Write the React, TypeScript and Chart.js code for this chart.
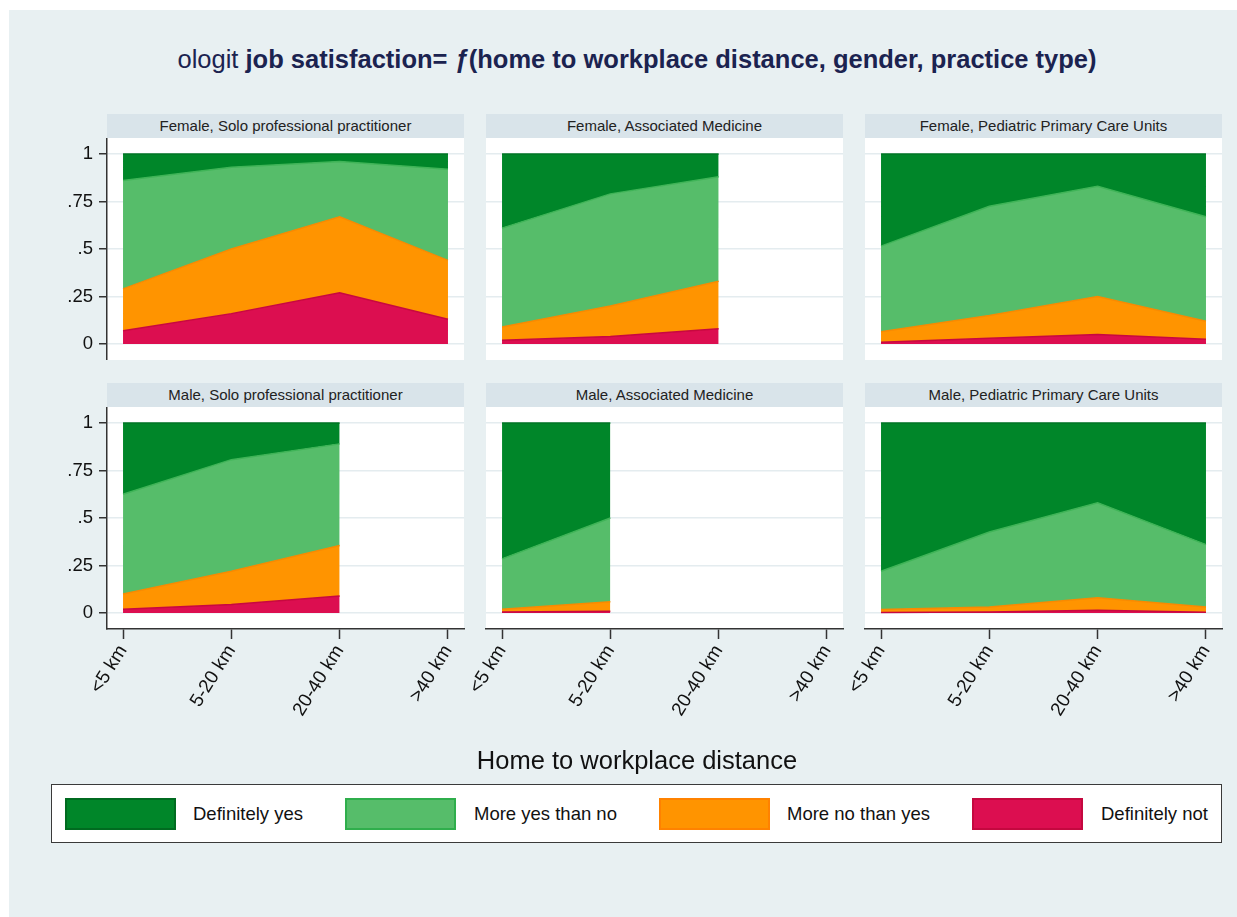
import React, { useEffect, useRef } from 'react';
import { Chart, registerables } from 'chart.js';

Chart.register(...registerables);

// ---------- data ----------
const distanceLabels = ['<5 km', '5-20 km', '20-40 km', '>40 km'];
const yTickValues = [0, 0.25, 0.5, 0.75, 1];
const yTickLabels = ['0', '.25', '.5', '.75', '1'];
const categoryNames = ['Definitely yes', 'More yes than no', 'More no than yes', 'Definitely not'];
const panelTitles = [
  'Female, Solo professional practitioner',
  'Female, Associated Medicine',
  'Female, Pediatric Primary Care Units',
  'Male, Solo professional practitioner',
  'Male, Associated Medicine',
  'Male, Pediatric Primary Care Units',
];

// probabilities per distance class (bottom to top of the stack)
const fSoloNot = [0.07, 0.16, 0.27, 0.13];
const fSoloMoreNo = [0.22, 0.34, 0.40, 0.31];
const fSoloMoreYes = [0.57, 0.43, 0.29, 0.48];
const fSoloYes = [0.14, 0.07, 0.04, 0.08];

const fAssocNot = [0.02, 0.04, 0.08];
const fAssocMoreNo = [0.07, 0.16, 0.25];
const fAssocMoreYes = [0.52, 0.59, 0.55];
const fAssocYes = [0.39, 0.21, 0.12];

const fPedNot = [0.01, 0.03, 0.05, 0.025];
const fPedMoreNo = [0.055, 0.12, 0.2, 0.095];
const fPedMoreYes = [0.45, 0.575, 0.58, 0.55];
const fPedYes = [0.485, 0.275, 0.17, 0.33];

const mSoloNot = [0.02, 0.045, 0.09];
const mSoloMoreNo = [0.08, 0.175, 0.265];
const mSoloMoreYes = [0.525, 0.587, 0.535];
const mSoloYes = [0.375, 0.193, 0.11];

const mAssocNot = [0.005, 0.01];
const mAssocMoreNo = [0.015, 0.05];
const mAssocMoreYes = [0.265, 0.44];
const mAssocYes = [0.715, 0.5];

const mPedNot = [0.003, 0.005, 0.014, 0.004];
const mPedMoreNo = [0.015, 0.027, 0.066, 0.028];
const mPedMoreYes = [0.202, 0.394, 0.5, 0.328];
const mPedYes = [0.78, 0.574, 0.42, 0.64];

// ---------- style / layout ----------
const FONT = '"Liberation Sans", Arial, Helvetica, sans-serif';
const FILL = ['#008629', '#56bd6a', '#ff9400', '#dc0e50'];
const LINE = ['#007524', '#3fb457', '#f88a00', '#c8083f'];
const SWATCH_BORDER = ['#006b20', '#2fae4c', '#ff8200', '#c4083f'];

const COL_LEFT = [107, 486, 865];
const ROW_TOP = [138, 407];
const AREA_W = 357;
const AREA_H = 222;
const HEADER_H = 24;
const X_MIN = -0.148;
const X_MAX = 3.148;
const Y_MIN = -0.084;
const Y_MAX = 1.084;

const bgPlugin = {
  id: 'whiteArea',
  beforeDraw(chart: any) {
    const { ctx, chartArea } = chart;
    ctx.save();
    ctx.fillStyle = '#ffffff';
    ctx.fillRect(chartArea.left, chartArea.top, chartArea.right - chartArea.left, chartArea.bottom - chartArea.top);
    ctx.restore();
  },
};

type PanelProps = {
  col: number;
  row: number;
  title: string;
  series: number[][]; // [not, moreNo, moreYes, yes]
};

function Panel({ col, row, title, series }: PanelProps) {
  const ref = useRef<HTMLCanvasElement>(null);
  const yW = col === 0 ? 107 : 40;
  const xH = row === 1 ? 100 : 0;
  const padR = 14;
  const cw = yW + AREA_W + padR;
  const ch = AREA_H + xH;
  const left = COL_LEFT[col] - yW;
  const top = ROW_TOP[row];

  useEffect(() => {
    if (!ref.current) return;
    const order = [3, 2, 1, 0]; // stack bottom: Definitely not ... top: Definitely yes
    const datasets = series.map((vals, k) => {
      const ci = order[k];
      return {
        label: categoryNames[ci],
        data: vals.map((v, i) => ({ x: i, y: v })),
        backgroundColor: FILL[ci],
        borderColor: LINE[ci],
        borderWidth: 1.5,
        pointRadius: 0,
        tension: 0,
        fill: k === 0 ? 'origin' : '-1',
      };
    });
    const chart = new Chart(ref.current, {
      type: 'line',
      data: { datasets },
      plugins: [bgPlugin],
      options: {
        animation: false,
        responsive: false,
        maintainAspectRatio: false,
        layout: { padding: { left: 0, right: padR, top: 0, bottom: 0 } },
        plugins: { legend: { display: false }, tooltip: { enabled: false } },
        scales: {
          x: {
            type: 'linear',
            min: X_MIN,
            max: X_MAX,
            display: row === 1,
            afterBuildTicks: (s: any) => {
              s.ticks = distanceLabels.map((_, i) => ({ value: i }));
            },
            afterFit: (s: any) => {
              s.height = xH;
              s.paddingLeft = 0;
              s.paddingRight = 0;
            },
            ticks: {
              autoSkip: false,
              minRotation: 58,
              maxRotation: 58,
              padding: 2,
              color: '#111',
              font: { size: 19, family: FONT },
              callback: (v: any) => distanceLabels[v] ?? '',
            },
            grid: { drawOnChartArea: false, tickLength: 10, tickColor: '#333', tickWidth: 1.5 },
            border: { display: true, color: '#333', width: 1.5 },
          },
          y: {
            type: 'linear',
            stacked: true,
            min: Y_MIN,
            max: Y_MAX,
            afterBuildTicks: (s: any) => {
              s.ticks = yTickValues.map((v) => ({ value: v }));
            },
            afterFit: (s: any) => {
              s.width = yW;
              s.paddingTop = 0;
              s.paddingBottom = 0;
            },
            ticks: {
              display: col === 0,
              padding: 6,
              color: '#111',
              font: { size: 18.5, family: FONT },
              callback: (v: any) => {
                const idx = yTickValues.indexOf(v);
                return idx >= 0 ? yTickLabels[idx] : '';
              },
            },
            grid: {
              color: '#e4ecef',
              lineWidth: 1.5,
              drawTicks: col === 0,
              tickLength: 8,
              tickColor: '#333',
              tickWidth: 1.5,
            },
            border: { display: col === 0, color: '#333', width: 1.5 },
          },
        },
      },
    } as any);
    return () => chart.destroy();
  }, []);

  return (
    <>
      <div
        style={{
          position: 'absolute',
          left: COL_LEFT[col],
          top: top - HEADER_H,
          width: AREA_W,
          height: HEADER_H,
          background: '#d9e4ea',
          color: '#222',
          font: `15px ${FONT}`,
          lineHeight: `${HEADER_H}px`,
          textAlign: 'center',
          whiteSpace: 'nowrap',
        }}
      >
        {title}
      </div>
      <canvas
        ref={ref}
        width={cw}
        height={ch}
        style={{ position: 'absolute', left, top, width: cw, height: ch, display: 'block' }}
      />
    </>
  );
}

const panelSeries = [
  [fSoloNot, fSoloMoreNo, fSoloMoreYes, fSoloYes],
  [fAssocNot, fAssocMoreNo, fAssocMoreYes, fAssocYes],
  [fPedNot, fPedMoreNo, fPedMoreYes, fPedYes],
  [mSoloNot, mSoloMoreNo, mSoloMoreYes, mSoloYes],
  [mAssocNot, mAssocMoreNo, mAssocMoreYes, mAssocYes],
  [mPedNot, mPedMoreNo, mPedMoreYes, mPedYes],
];

const LEGEND_SWATCH_LEFT = [65, 345, 659, 972];
const LEGEND_TEXT_LEFT = [193, 474, 787, 1101];

export default function App() {
  return (
    <div style={{ position: 'absolute', left: 0, top: 0, width: 1237, height: 917, background: '#fff', overflow: 'hidden' }}>
      <div style={{ position: 'absolute', left: 9, top: 10, right: 0, bottom: 0, background: '#e8f0f2' }} />
      <div
        style={{
          position: 'absolute',
          left: 637,
          top: 45,
          transform: 'translateX(-50%)',
          whiteSpace: 'nowrap',
          font: `25.5px ${FONT}`,
          color: '#1b2350',
          lineHeight: '28px',
        }}
      >
        ologit <b>job satisfaction= </b>
        <b><i>ƒ</i></b>
        <b>(home to workplace distance, gender, practice type)</b>
      </div>

      {panelTitles.map((t, i) => (
        <Panel key={i} col={i % 3} row={Math.floor(i / 3)} title={t} series={panelSeries[i]} />
      ))}

      <div
        style={{
          position: 'absolute',
          left: 637,
          top: 745,
          transform: 'translateX(-50%)',
          whiteSpace: 'nowrap',
          font: `25.5px ${FONT}`,
          color: '#111',
          lineHeight: '30px',
        }}
      >
        Home to workplace distance
      </div>

      <div
        style={{
          position: 'absolute',
          left: 51,
          top: 784,
          width: 1171,
          height: 59,
          boxSizing: 'border-box',
          background: '#fff',
          border: '1.5px solid #3a3a3a',
        }}
      />
      {categoryNames.map((name, i) => (
        <React.Fragment key={name}>
          <div
            style={{
              position: 'absolute',
              left: LEGEND_SWATCH_LEFT[i],
              top: 798,
              width: 111,
              height: 32,
              boxSizing: 'border-box',
              background: FILL[i],
              border: `2px solid ${SWATCH_BORDER[i]}`,
            }}
          />
          <div
            style={{
              position: 'absolute',
              left: LEGEND_TEXT_LEFT[i],
              top: 802,
              font: `18.5px ${FONT}`,
              lineHeight: '24px',
              color: '#111',
              whiteSpace: 'nowrap',
            }}
          >
            {name}
          </div>
        </React.Fragment>
      ))}
    </div>
  );
}
